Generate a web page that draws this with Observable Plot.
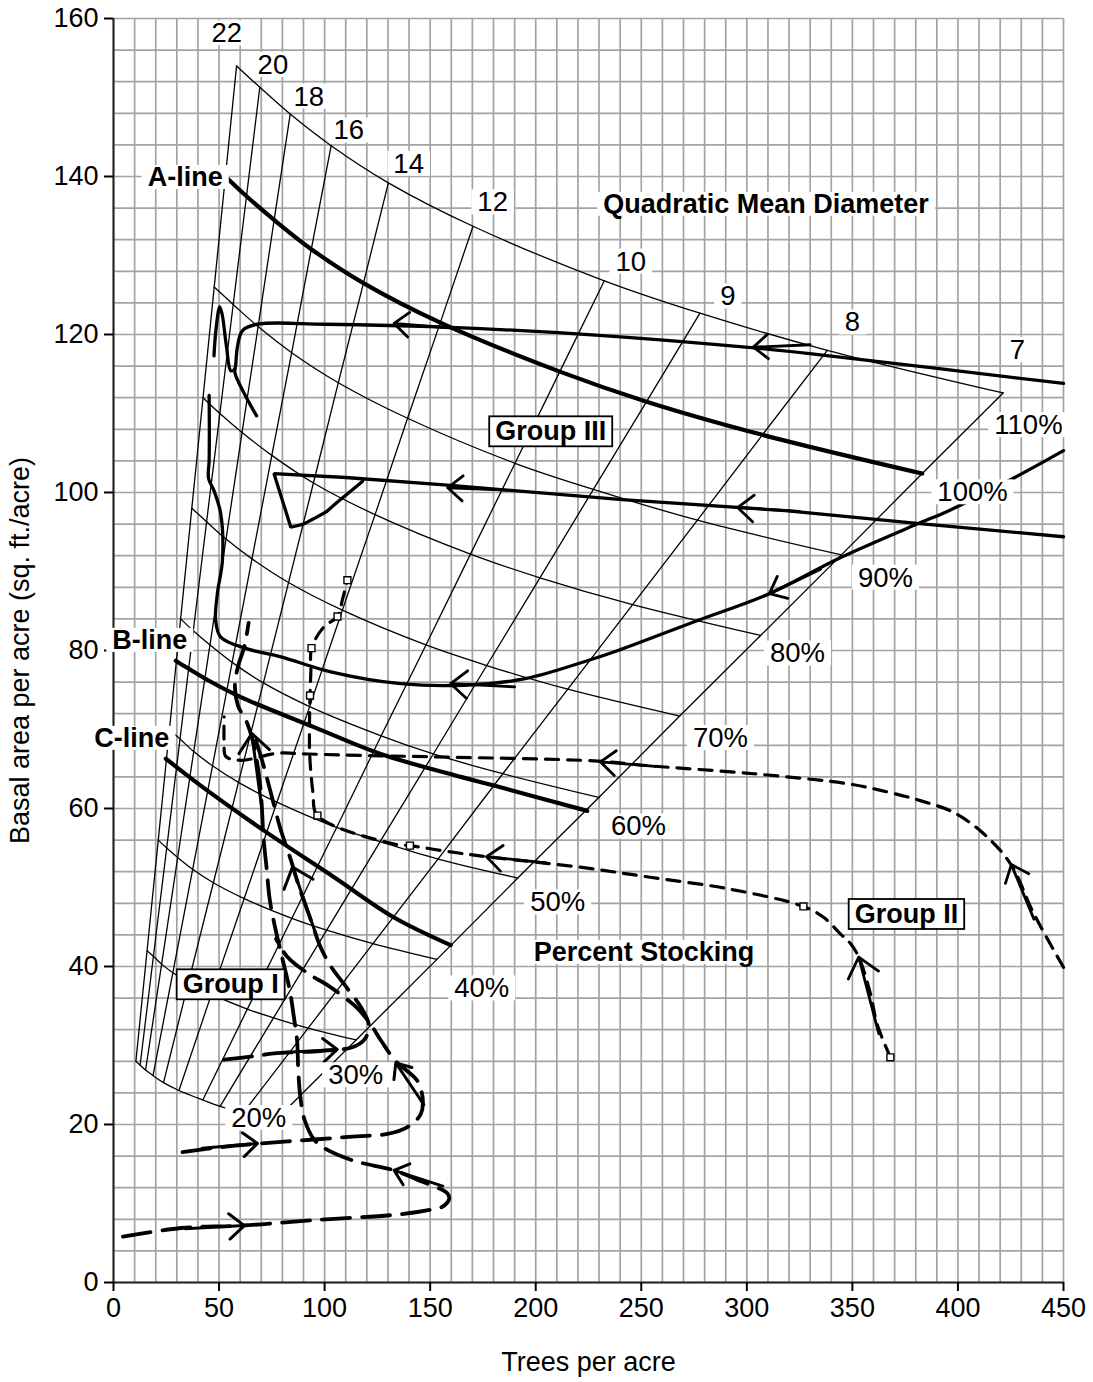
<!DOCTYPE html>
<html><head><meta charset="utf-8">
<script src="https://cdn.jsdelivr.net/npm/d3@7"></script>
<script src="https://cdn.jsdelivr.net/npm/@observablehq/plot@0.6"></script>
<style>
body{margin:0;background:#fff}
#chart svg{font-family:"Liberation Sans",Arial,sans-serif;overflow:visible}
</style>
</head><body><div id="chart"></div>
<script>
// ---------- stocking-chart framework ----------
const qmdClasses = [22,20,18,16,14,12,10,9,8,7];
const stockingLevels = [110,100,90,80,70,60,50,40,30,20];
// trees per acre where each stocking curve meets each diameter line
const tpaGrid = [
 [58.3,69.3,83.7,103.1,130.2,170.3,232.5,277.8,338.1,421.4],
 [53.0,63.0,76.1,93.7,118.4,154.8,211.4,252.5,307.4,383.1],
 [47.7,56.7,68.5,84.4,106.5,139.3,190.2,227.3,276.6,344.8],
 [42.4,50.4,60.9,75.0,94.7,123.9,169.1,202.0,245.9,306.5],
 [37.1,44.1,53.3,65.6,82.9,108.4,148.0,176.8,215.2,268.2],
 [31.8,37.8,45.7,56.2,71.0,92.9,126.8,151.5,184.4,229.9],
 [26.5,31.5,38.0,46.9,59.2,77.4,105.7,126.3,153.7,191.5],
 [21.2,25.2,30.4,37.5,47.3,61.9,84.5,101.0,122.9,153.2],
 [15.9,18.9,22.8,28.1,35.5,46.4,63.4,75.8,92.2,114.9],
 [10.6,12.6,15.2,18.7,23.7,31.0,42.3,50.5,61.5,76.6]
];
// basal area at the same intersections
const baGrid = [
 [154.0,151.3,147.9,143.9,139.2,133.7,126.8,122.7,118.0,112.6],
 [140.0,137.5,134.5,130.8,126.5,121.5,115.3,111.5,107.3,102.4],
 [126.0,123.8,121.0,117.7,113.9,109.4,103.7,100.4,96.5,92.1],
 [112.0,110.0,107.6,104.7,101.2,97.2,92.2,89.2,85.8,81.9],
 [98.0,96.3,94.1,91.6,88.6,85.1,80.7,78.1,75.1,71.7],
 [84.0,82.5,80.7,78.5,75.9,72.9,69.2,66.9,64.4,61.4],
 [70.0,68.8,67.2,65.4,63.3,60.8,57.6,55.8,53.6,51.2],
 [56.0,55.0,53.8,52.3,50.6,48.6,46.1,44.6,42.9,40.9],
 [42.0,41.3,40.3,39.2,38.0,36.5,34.6,33.5,32.2,30.7],
 [28.0,27.5,26.9,26.2,25.3,24.3,23.1,22.3,21.5,20.5]
];
const bLine = [[29.5,78.7],[31.9,78.3],[45,76.2],[60.3,74.1],[95,70.3],[126.6,66.9],[164.5,64.0],[180.2,62.9],[224.4,59.7]];
const cLine = [[24.8,66.3],[41.3,62.9],[71.3,57.2],[104.5,51.3],[132.9,46.2],[159.7,42.7]];

// ---------- Group III (solid) ----------
const g3Top = [[450,113.8],[339,117.3],[299.4,118.4],[230,119.9],[159.8,120.9],[100,121.3],[68.2,121.3],[61.1,120.5],[58.7,118.4],[57.9,116.2],[57.5,115.2],[62,112.5],[67.8,109.7]];
const g3Zig = [[47.6,117.3],[48.5,120.5],[50.3,123.5],[51.5,122.5],[53.5,118.5],[55.6,115.4],[57.5,115.6]];
const g3Mid = [[450,94.4],[380.6,96.1],[318.3,97.7],[241,99.1],[159.7,100.9],[110,101.9],[76,102.4],[84,95.6],[90,96.0],[95,96.7],[101,97.6],[106.1,98.8],[112,100.1],[117.9,101.4]];
const g3Low = [[450,105.3],[426.9,101.9],[395.7,97.7],[380.6,96.0],[344.7,91.8],[310.7,87.2],[276.7,83.8],[239,80.0],[224.4,78.7],[194.4,76.4],[166,75.6],[136,75.8],[102.9,77.3],[79.3,79.2],[63.4,80.2],[50.8,81.7],[48.4,83.8],[49.2,87.2],[51.6,91.4],[50.8,97.3],[47.5,100.3],[45.0,101.8],[45.3,104],[45.4,108],[45.3,112.3]];
const g3Arrows = [[330,118.7,303.1,118.4],[160,120.8,132.9,121.4],[325,97.6,295.6,98.1],[186,100.3,158.3,100.6],[335,90.3,310.7,87.2],[190,75.4,159.7,75.8]];

// ---------- Group II (short dashes, square markers) ----------
const g2Upper = [[450,39.9],[435.9,46.7],[424.9,53.0],[412.2,56.8],[398,59.5],[382.2,61.0],[366.5,62.1],[348.5,63.1],[303.2,64.4],[254.1,65.4],[229.5,66.0],[159.7,66.5],[120.3,66.7],[91.9,66.9],[77.7,67.0],[60.3,66.1],[53.2,66.6],[52.4,68.4],[52.4,71.6]];
const g2Lower = [[368,28.5],[361.7,32.7],[358.6,36.5],[353,41.2],[349.1,42.9],[344.4,44.1],[336.5,46.2],[326.8,47.6],[291.9,49.8],[254.1,51.3],[220.1,52.6],[176.7,53.9],[159.7,54.5],[140.4,55.3],[132.9,55.5],[96.6,59.1],[94.5,62],[93,66.5],[92.8,70],[93.1,74.3],[93.5,77.5],[93.8,80.3],[99.7,83.0],[106.1,84.3],[108.5,86.5],[110.8,88.9]];
const g2Squares = [[368,28.5],[326.8,47.6],[140.4,55.3],[96.6,59.1],[93.1,74.3],[93.8,80.3],[106.1,84.3],[110.8,88.9]];
const g2Arrows = [[362.5,31.5,353,41.2],[205,53.1,176.7,53.9],[436,46.0,425.3,52.9],[258,65.3,230.7,65.9]];

// ---------- Group I (long dashes) ----------
const g1a = [[4.5,5.8],[32,6.9],[60,7.2],[95,7.9],[134.5,8.6],[150,9.2],[156.5,9.7],[159,10.6],[158.1,11.3],[143.9,13.0],[132.9,14.2],[113.9,15.4],[100.5,16.9],[95,18.1],[90.5,20.6],[88.5,23.5],[87.5,27],[87,30.5],[85.5,33.5],[83.5,37],[80,41],[76.5,45],[74,48.5],[72.5,52.5],[71,56.5],[70.2,60.5],[69,64],[66.5,68],[63,71],[59,73],[57.5,75.5],[59,78],[62,80.5],[64,83.5]];
const g1b = [[32.7,16.5],[50,17.1],[69.8,17.6],[95,18.1],[115,18.5],[129.7,18.8],[140,19.8],[145.5,21.3],[146.5,23.2],[144,25.5],[139,26.8],[133.7,28.0],[127,30.5],[121,33],[114,35.1],[101,37.7],[93.4,38.9],[82.4,41.2],[77,43.5]];
const g1c = [[52.4,28.2],[68.2,28.7],[76,29],[98,29.3],[113.5,29.8],[119,30.8],[121,32.5],[118,34.5],[110,37.5],[103,40],[98,42.5],[94,45.5],[88,50],[84,53.5],[79,57.5],[75,61.5],[71,65.5],[67,69]];
const g1Arrows = [[34,6.8,62,7.2],[156,12.2,132.9,14.2],[42,17.0,68.2,17.6],[147,22.5,133.7,27.8],[80,29.1,106,29.5],[96,44.0,84.8,52.6],[70,60.5,65.5,69.5]];

// ---------- labels ----------
const qmdLabels = [["22",53.7,158.1],["20",75.5,154.1],["18",92.5,150.1],["16",111.4,145.8],["14",139.8,141.6],["12",179.6,136.7],["10",245,129.2],["9",291,124.8],["8",350,121.5],["7",428.2,118.0]];
const pctLabels = [["110%",433.4,108.5],["100%",406.9,100.0],["90%",365.7,89.2],["80%",324,79.6],["70%",287.5,68.9],["60%",248.7,57.7],["50%",210.4,48.1],["40%",174.4,37.2],["30%",114.7,26.2],["20%",68.8,20.8]];
const boldLabels = [["A-line",34.0,139.9],["B-line",17.2,81.3],["C-line",8.7,68.9],["Quadratic Mean Diameter",309.1,136.5],["Percent Stocking",251.3,41.8]];
const groupLabels = [["Group III",207.1,107.7],["Group II",375.6,46.6],["Group I",55.5,37.7]];
const xTicks = [0,50,100,150,200,250,300,350,400,450];
const yTicks = [0,20,40,60,80,100,120,140,160];

// ---------- tables for the library ----------
const grid = [];
stockingLevels.forEach((s,i)=>qmdClasses.forEach((d,j)=>grid.push({s,d,tpa:tpaGrid[i][j],ba:baGrid[i][j]})));
const thinGrid = grid.filter(p=>p.s!==100);
const aLine = grid.filter(p=>p.s===100);
const pts = (arr)=>arr.map(([x,y])=>({x,y}));
const arr = a=>a.map(([x1,y1,x2,y2])=>({x1,y1,x2,y2}));
const lab = a=>a.map(([t,x,y])=>({t,x,y}));
const arrowStyle = {x1:"x1",y1:"y1",x2:"x2",y2:"y2", stroke:"black", strokeWidth:2.8, headLength:13, headAngle:80};

const svg = Plot.plot({
  width:1093, height:1382,
  marginLeft:113, marginRight:30, marginTop:18, marginBottom:100,
  style:{fontFamily:"Liberation Sans, Arial, sans-serif", background:"white", color:"black"},
  x:{domain:[0,450]},
  y:{domain:[0,160]},
  marks:[
    Plot.gridX({interval:10, stroke:"#a3a3a3", strokeOpacity:1, strokeWidth:1.7}),
    Plot.gridY({interval:4, stroke:"#a3a3a3", strokeOpacity:1, strokeWidth:1.7}),
    Plot.ruleX([0],{stroke:"#222", strokeWidth:2}),
    Plot.ruleY([0],{stroke:"#222", strokeWidth:2}),
    Plot.axisY({ticks:yTicks, tickSize:9, tickPadding:6, fontSize:27, strokeWidth:2,
      label:"Basal area per acre (sq. ft./acre)", labelAnchor:"center", labelArrow:"none", labelOffset:104}),
    Plot.axisX({ticks:xTicks, tickSize:9, tickPadding:6, fontSize:27, strokeWidth:2,
      label:"Trees per acre", labelAnchor:"center", labelArrow:"none", labelOffset:88}),
    // diameter lines
    Plot.line(grid,{x:"tpa", y:"ba", z:"d", stroke:"black", strokeWidth:1.3}),
    // stocking lines
    Plot.line(thinGrid,{x:"tpa", y:"ba", z:"s", curve:"catmull-rom", stroke:"black", strokeWidth:1.3}),
    // A, B, C lines
    Plot.line(aLine,{x:"tpa", y:"ba", curve:"catmull-rom", stroke:"black", strokeWidth:4.2}),
    Plot.line(pts(bLine),{x:"x", y:"y", curve:"catmull-rom", stroke:"black", strokeWidth:4.2}),
    Plot.line(pts(cLine),{x:"x", y:"y", curve:"catmull-rom", stroke:"black", strokeWidth:4.2}),
    // Group III
    ...[g3Top,g3Zig,g3Low].map(a=>Plot.line(pts(a),{x:"x", y:"y", curve:"catmull-rom", stroke:"black", strokeWidth:3.3})),
    Plot.line(pts(g3Mid),{x:"x", y:"y", stroke:"black", strokeWidth:3.3, strokeLinejoin:"miter"}),
    Plot.arrow(arr(g3Arrows), arrowStyle),
    // Group II
    ...[g2Upper,g2Lower].map(a=>Plot.line(pts(a),{x:"x", y:"y", curve:"catmull-rom", stroke:"black", strokeWidth:3.2, strokeDasharray:"13,9"})),
    Plot.arrow(arr(g2Arrows), arrowStyle),
    Plot.dot(pts(g2Squares),{x:"x", y:"y", symbol:"square", r:3.9, fill:"white", stroke:"black", strokeWidth:1.4}),
    // Group I
    ...[g1a,g1b,g1c].map(a=>Plot.line(pts(a),{x:"x", y:"y", curve:"catmull-rom", stroke:"black", strokeWidth:3.8, strokeDasharray:"28,12"})),
    Plot.arrow(arr(g1Arrows), {...arrowStyle, strokeWidth:3}),
    // labels
    Plot.text(lab(qmdLabels),{x:"x", y:"y", text:"t", fontSize:27.5, fill:"black"}),
    Plot.text(lab(pctLabels),{x:"x", y:"y", text:"t", fontSize:27.5, fill:"black"}),
    Plot.text(lab(boldLabels),{x:"x", y:"y", text:"t", fontSize:27, fontWeight:"bold", fill:"black"}),
    Plot.text(lab(groupLabels),{x:"x", y:"y", text:"t", fontSize:27, fontWeight:"bold", fill:"black"})
  ]
});
document.getElementById("chart").append(svg);

// white boxes behind the in-chart labels (bordered for the group names)
const groupNames = new Set(groupLabels.map(d=>d[0]));
svg.querySelectorAll('g[aria-label="text"] text').forEach(t=>{
  const b = t.getBBox();
  const bordered = groupNames.has(t.textContent);
  const padX = 6, padY = bordered ? 0 : -3;
  const r = document.createElementNS("http://www.w3.org/2000/svg","rect");
  r.setAttribute("x", b.x - padX);
  r.setAttribute("y", b.y - padY);
  r.setAttribute("width", b.width + 2*padX);
  r.setAttribute("height", b.height + 2*padY);
  r.setAttribute("fill","white");
  if (t.getAttribute("transform")) r.setAttribute("transform", t.getAttribute("transform"));
  if (bordered){ r.setAttribute("stroke","black"); r.setAttribute("stroke-width","1.8"); }
  t.parentNode.insertBefore(r, t);
});
</script>
</body></html>
